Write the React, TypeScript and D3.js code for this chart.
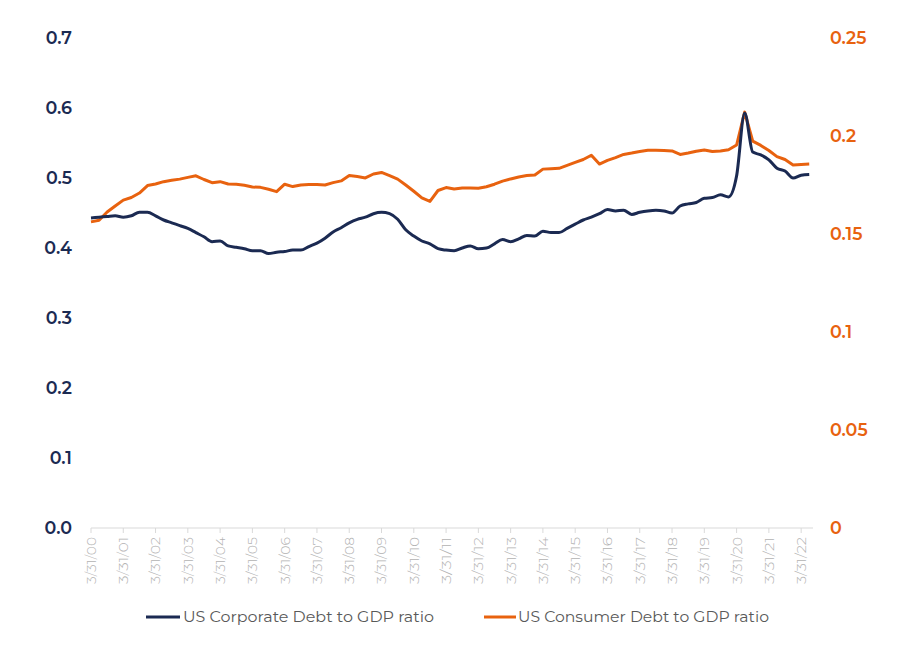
import React from "react";
import * as d3 from "d3";

const years = d3.range(0, 23).map((y) => `3/31/${String(y).padStart(2, "0")}`);

const corporate = [
  0.443, 0.444, 0.445, 0.446, 0.444, 0.446, 0.451, 0.451, 0.446, 0.44,
  0.436, 0.432, 0.428, 0.422, 0.416, 0.409, 0.41, 0.403, 0.401, 0.399,
  0.396, 0.396, 0.392, 0.394, 0.395, 0.397, 0.397, 0.402, 0.407, 0.414,
  0.423, 0.429, 0.436, 0.441, 0.444, 0.449, 0.451, 0.449, 0.441, 0.426,
  0.417, 0.41, 0.406, 0.399, 0.397, 0.396, 0.4, 0.403, 0.399, 0.4,
  0.406, 0.412, 0.409, 0.413, 0.418, 0.417, 0.424, 0.422, 0.422, 0.428,
  0.434, 0.44, 0.444, 0.449, 0.455, 0.453, 0.454, 0.448, 0.451, 0.453,
  0.454, 0.453, 0.45, 0.46, 0.463, 0.465, 0.471, 0.472, 0.476, 0.473,
  0.503, 0.593, 0.537, 0.533, 0.526, 0.514, 0.51, 0.5, 0.504, 0.505,
];

const consumer = [
  0.1562, 0.157, 0.1612, 0.1643, 0.1673, 0.1686, 0.1709, 0.1747, 0.1755, 0.1767,
  0.1774, 0.178, 0.1789, 0.1797, 0.1778, 0.1762, 0.1767, 0.1755, 0.1754, 0.1749,
  0.174, 0.1738, 0.1728, 0.1716, 0.1754, 0.1742, 0.175, 0.1753, 0.1752, 0.175,
  0.1762, 0.1771, 0.1798, 0.1793, 0.1786, 0.1806, 0.1814, 0.1798, 0.178, 0.175,
  0.1718, 0.1684, 0.1666, 0.1722, 0.1737, 0.173, 0.1735, 0.1735, 0.1733, 0.1741,
  0.1754, 0.177, 0.1781, 0.1791, 0.1798, 0.1801, 0.1831, 0.1833, 0.1835, 0.185,
  0.1865, 0.188, 0.1902, 0.1857, 0.1876, 0.189, 0.1906, 0.1913, 0.1921, 0.1927,
  0.1927, 0.1926, 0.1924, 0.1906, 0.1913, 0.1922, 0.1929, 0.1921, 0.1923, 0.193,
  0.1954, 0.2122, 0.1974, 0.1952, 0.1926, 0.1895, 0.188, 0.1852, 0.1855, 0.1857,
];

const leftTicks = [0, 0.1, 0.2, 0.3, 0.4, 0.5, 0.6, 0.7];
const rightTicks = [0, 0.05, 0.1, 0.15, 0.2, 0.25];
const rightTickLabels = ["0", "0.05", "0.1", "0.15", "0.2", "0.25"];
const seriesNames = ["US Corporate Debt to GDP ratio", "US Consumer Debt to GDP ratio"];

const NAVY = "#1b2a52";
const ORANGE = "#e8620f";
const FONT = "Montserrat, 'Open Sans', 'DejaVu Sans', sans-serif";

export default function App() {
  const W = 900, H = 652;
  const x0 = 91, pitch = 8.07;
  const n = corporate.length;
  const x = d3.scaleLinear().domain([0, n - 1]).range([x0, x0 + pitch * (n - 1)]);
  const yL = d3.scaleLinear().domain([0, 0.7]).range([528, 38]);
  const yR = d3.scaleLinear().domain([0, 0.25]).range([528, 38]);

  const lineCorp = d3.line<number>().x((_, i) => x(i)).y((d) => yL(d)).curve(d3.curveMonotoneX);
  const lineCons = d3.line<number>().x((_, i) => x(i)).y((d) => yR(d));

  return (
    <svg width={W} height={H} style={{ position: "absolute", left: 0, top: 0, background: "#fff" }}>
      {/* x axis */}
      <line x1={x0} x2={813} y1={528} y2={528} stroke="#d9d9d9" strokeWidth={1} />
      {years.map((lab, k) => {
        const xi = x(k * 4);
        return (
          <g key={lab}>
            <line x1={xi} x2={xi} y1={528} y2={533} stroke="#d9d9d9" />
            <text
              transform={`translate(${xi},537) rotate(-90)`}
              textAnchor="end"
              dy="0.35em"
              fontFamily={FONT}
              fontSize={14}
              fontWeight={300}
              fill="#b3b3b3"
              textLength={47}
              lengthAdjust="spacingAndGlyphs"
            >
              {lab}
            </text>
          </g>
        );
      })}
      {/* left axis labels */}
      {leftTicks.map((t) => (
        <text key={t} x={72} y={yL(t)} dy="0.35em" textAnchor="end" fontFamily={FONT} fontSize={17.5} fontWeight={600} fill={NAVY}>
          {t.toFixed(1)}
        </text>
      ))}
      {/* right axis labels */}
      {rightTicks.map((t, i) => (
        <text key={t} x={830} y={yR(t)} dy="0.35em" textAnchor="start" fontFamily={FONT} fontSize={17.5} fontWeight={600} fill={ORANGE}>
          {rightTickLabels[i]}
        </text>
      ))}
      {/* lines */}
      <path d={lineCons(consumer) || ""} fill="none" stroke={ORANGE} strokeWidth={3} strokeLinejoin="round" />
      <path d={lineCorp(corporate) || ""} fill="none" stroke={NAVY} strokeWidth={3} strokeLinejoin="round" />
      {/* legend */}
      <line x1={146} x2={180} y1={617} y2={617} stroke={NAVY} strokeWidth={3} />
      <text x={183} y={617} dy="0.35em" fontFamily={FONT} fontSize={15.5} fill="#595959" textLength={251} lengthAdjust="spacingAndGlyphs">
        {seriesNames[0]}
      </text>
      <line x1={484} x2={516} y1={617} y2={617} stroke={ORANGE} strokeWidth={3} />
      <text x={518} y={617} dy="0.35em" fontFamily={FONT} fontSize={15.5} fill="#595959" textLength={251} lengthAdjust="spacingAndGlyphs">
        {seriesNames[1]}
      </text>
    </svg>
  );
}
